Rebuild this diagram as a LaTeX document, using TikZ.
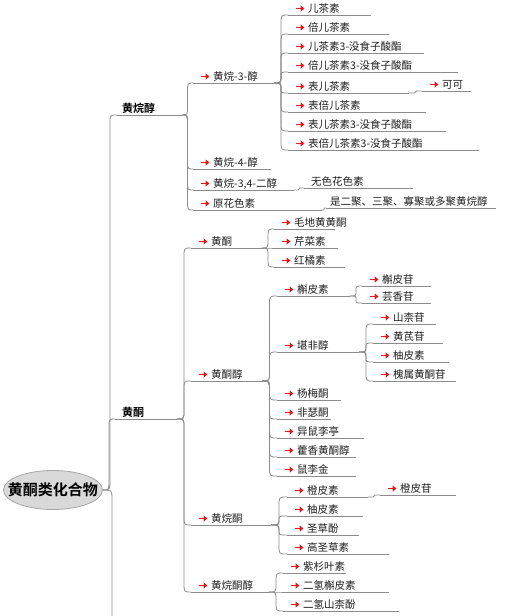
\documentclass[tikz,border=0pt]{standalone}
\usepackage{fontspec}
\setmainfont{Noto Sans CJK SC}[BoldFont={Noto Sans CJK SC Bold}]
\usetikzlibrary{shapes.geometric,arrows.meta,calc}
\definecolor{lncol}{HTML}{8C8C8C}
\definecolor{arrred}{HTML}{E41A1A}
\definecolor{txtcol}{HTML}{1E1E1E}
\definecolor{rootfill}{HTML}{D9D9D9}
\definecolor{rootdraw}{HTML}{A6A6A6}
\tikzset{
  ln/.style={draw=lncol,line width=0.8pt},
  rarr/.style={draw=arrred,line width=1.5pt,-{Triangle[length=4pt,width=6pt]}},
  lbl/.style={anchor=base west,inner sep=0pt,text=txtcol,font=\fontsize{10.5}{12}\selectfont},
  boldlbl/.style={anchor=base west,inner sep=0pt,text=black,font=\fontsize{11}{13}\selectfont\bfseries},
  rootnode/.style={ellipse,draw=rootdraw,fill=rootfill,line width=0.8pt,minimum width=99pt,minimum height=39pt,inner xsep=-30pt,inner ysep=-4pt,font=\fontsize{15}{17}\selectfont\bfseries},
  conn/.style={to path={
    let \p1=(\tikztostart), \p2=(\tikztotarget),
        \n1={(\x1+\x2)/2},
        \n2={min(9pt,abs(\y2-\y1)/2)},
        \n3={ifthenelse(\y2>\y1,1,-1)}
    in .. controls ({\n1},{\y1}) .. ({\n1},{\y1+(\n3)*\n2})
       -- ({\n1},{\y2-(\n3)*\n2})
       .. controls ({\n1},{\y2}) .. (\tikztotarget)}}
}
\newcommand\mmarr[5]{%
  \coordinate (#1s) at (#2,#4);
  \coordinate (#1e) at (#3,#4);
  \draw[ln] (#1s) -- (#1e);
  \draw[rarr] ({#2+7.5},{#4-6.5}) -- ({#2+16.5},{#4-6.5});
  \node[lbl] (#1) at ({#2+20},{#4-2.5}) {#5};
}
\newcommand\mmplain[7]{%
  \coordinate (#1s) at (#2,#4);
  \coordinate (#1e) at (#3,#4);
  \draw[ln] (#1s) -- (#1e);
  \node[#7] (#1) at ({#2+#5},{#4-2.5}) {#6};
}
\begin{document}
\begin{tikzpicture}[x=1pt,y=-1pt]
\useasboundingbox (0,0) rectangle (512,616);
\clip (0,0) rectangle (512,616);
\fill[white] (0,0) rectangle (512,616);

\node[rootnode] (root) at (53,490) {黄酮类化合物};
\coordinate (down) at (121,760);

% level 1
\mmplain{hw}{117}{182}{115}{5}{黄烷醇}{boldlbl}
\mmplain{ht}{115}{177}{419}{7}{黄酮}{boldlbl}

% flavanols
\mmarr{hwa}{193}{274}{83}{黄烷-3-醇}
\mmarr{hwb}{193}{271}{169}{黄烷-4-醇}
\mmarr{hwc}{193}{294}{190}{黄烷-3,4-二醇}
\mmarr{hwd}{193}{322}{210}{原花色素}

\mmarr{a1}{288}{371}{15}{儿茶素}
\mmarr{a2}{288}{389}{34}{倍儿茶素}
\mmarr{a3}{288}{424}{53}{儿茶素3-没食子酸酯}
\mmarr{a4}{288}{458}{72}{倍儿茶素3-没食子酸酯}
\mmarr{a5}{288}{409}{93}{表儿茶素}
\mmarr{a6}{288}{426}{112}{表倍儿茶素}
\mmarr{a7}{288}{446}{131}{表儿茶素3-没食子酸酯}
\mmarr{a8}{288}{479}{150}{表倍儿茶素3-没食子酸酯}
\mmarr{kk}{422}{471}{91}{可可}
\mmplain{wsh}{304}{413}{188}{7}{无色花色素}{lbl}
\mmplain{sej}{326}{496}{208}{4}{是二聚、三聚、寡聚或多聚黄烷醇}{lbl}

% flavones group
\mmarr{hta}{191}{262}{248}{黄酮}
\mmarr{htb}{191}{262}{381}{黄酮醇}
\mmarr{htc}{191}{271}{525}{黄烷酮}
\mmarr{htd}{191}{269}{592}{黄烷酮醇}

\mmarr{b1}{274}{335}{229}{毛地黄黄酮}
\mmarr{b2}{274}{338}{248}{芹菜素}
\mmarr{b3}{274}{345}{267}{红橘素}

\mmarr{c1}{277}{350}{296}{槲皮素}
\mmarr{c2}{277}{359}{352}{堪非醇}
\mmarr{c3}{277}{341}{400}{杨梅酮}
\mmarr{c4}{277}{331}{419}{非瑟酮}
\mmarr{c5}{277}{364}{438}{异鼠李亭}
\mmarr{c6}{277}{356}{457}{藿香黄酮醇}
\mmarr{c7}{277}{356}{476}{鼠李金}

\mmarr{d1}{362}{431}{286}{槲皮苷}
\mmarr{d2}{362}{431}{303}{芸香苷}

\mmarr{e1}{373}{436}{324}{山柰苷}
\mmarr{e2}{373}{443}{343}{黄芪苷}
\mmarr{e3}{373}{449}{362}{柚皮素}
\mmarr{e4}{373}{456}{381}{槐属黄酮苷}

\mmarr{f1}{287}{368}{497}{橙皮素}
\mmarr{f2}{287}{363}{516}{柚皮素}
\mmarr{f3}{287}{359}{535}{圣草酚}
\mmarr{f4}{287}{389}{554}{高圣草素}
\mmarr{g1}{380}{456}{495}{橙皮苷}

\mmarr{h1}{283}{346}{573}{紫杉叶素}
\mmarr{h2}{283}{389}{592}{二氢槲皮素}
\mmarr{h3}{283}{399}{611}{二氢山柰酚}

% connectors
\foreach \p/\c in {root.east/hws, root.east/hts, root.east/down,
  hwe/hwas, hwe/hwbs, hwe/hwcs, hwe/hwds,
  hwae/a1s, hwae/a2s, hwae/a3s, hwae/a4s, hwae/a5s, hwae/a6s, hwae/a7s, hwae/a8s,
  a5e/kks, hwce/wshs, hwde/sejs,
  hte/htas, hte/htbs, hte/htcs, hte/htds,
  htae/b1s, htae/b2s, htae/b3s,
  htbe/c1s, htbe/c2s, htbe/c3s, htbe/c4s, htbe/c5s, htbe/c6s, htbe/c7s,
  c1e/d1s, c1e/d2s,
  c2e/e1s, c2e/e2s, c2e/e3s, c2e/e4s,
  htce/f1s, htce/f2s, htce/f3s, htce/f4s,
  f1e/g1s,
  htde/h1s, htde/h2s, htde/h3s}
  \draw[ln] (\p) to[conn] (\c);
\end{tikzpicture}
\end{document}
